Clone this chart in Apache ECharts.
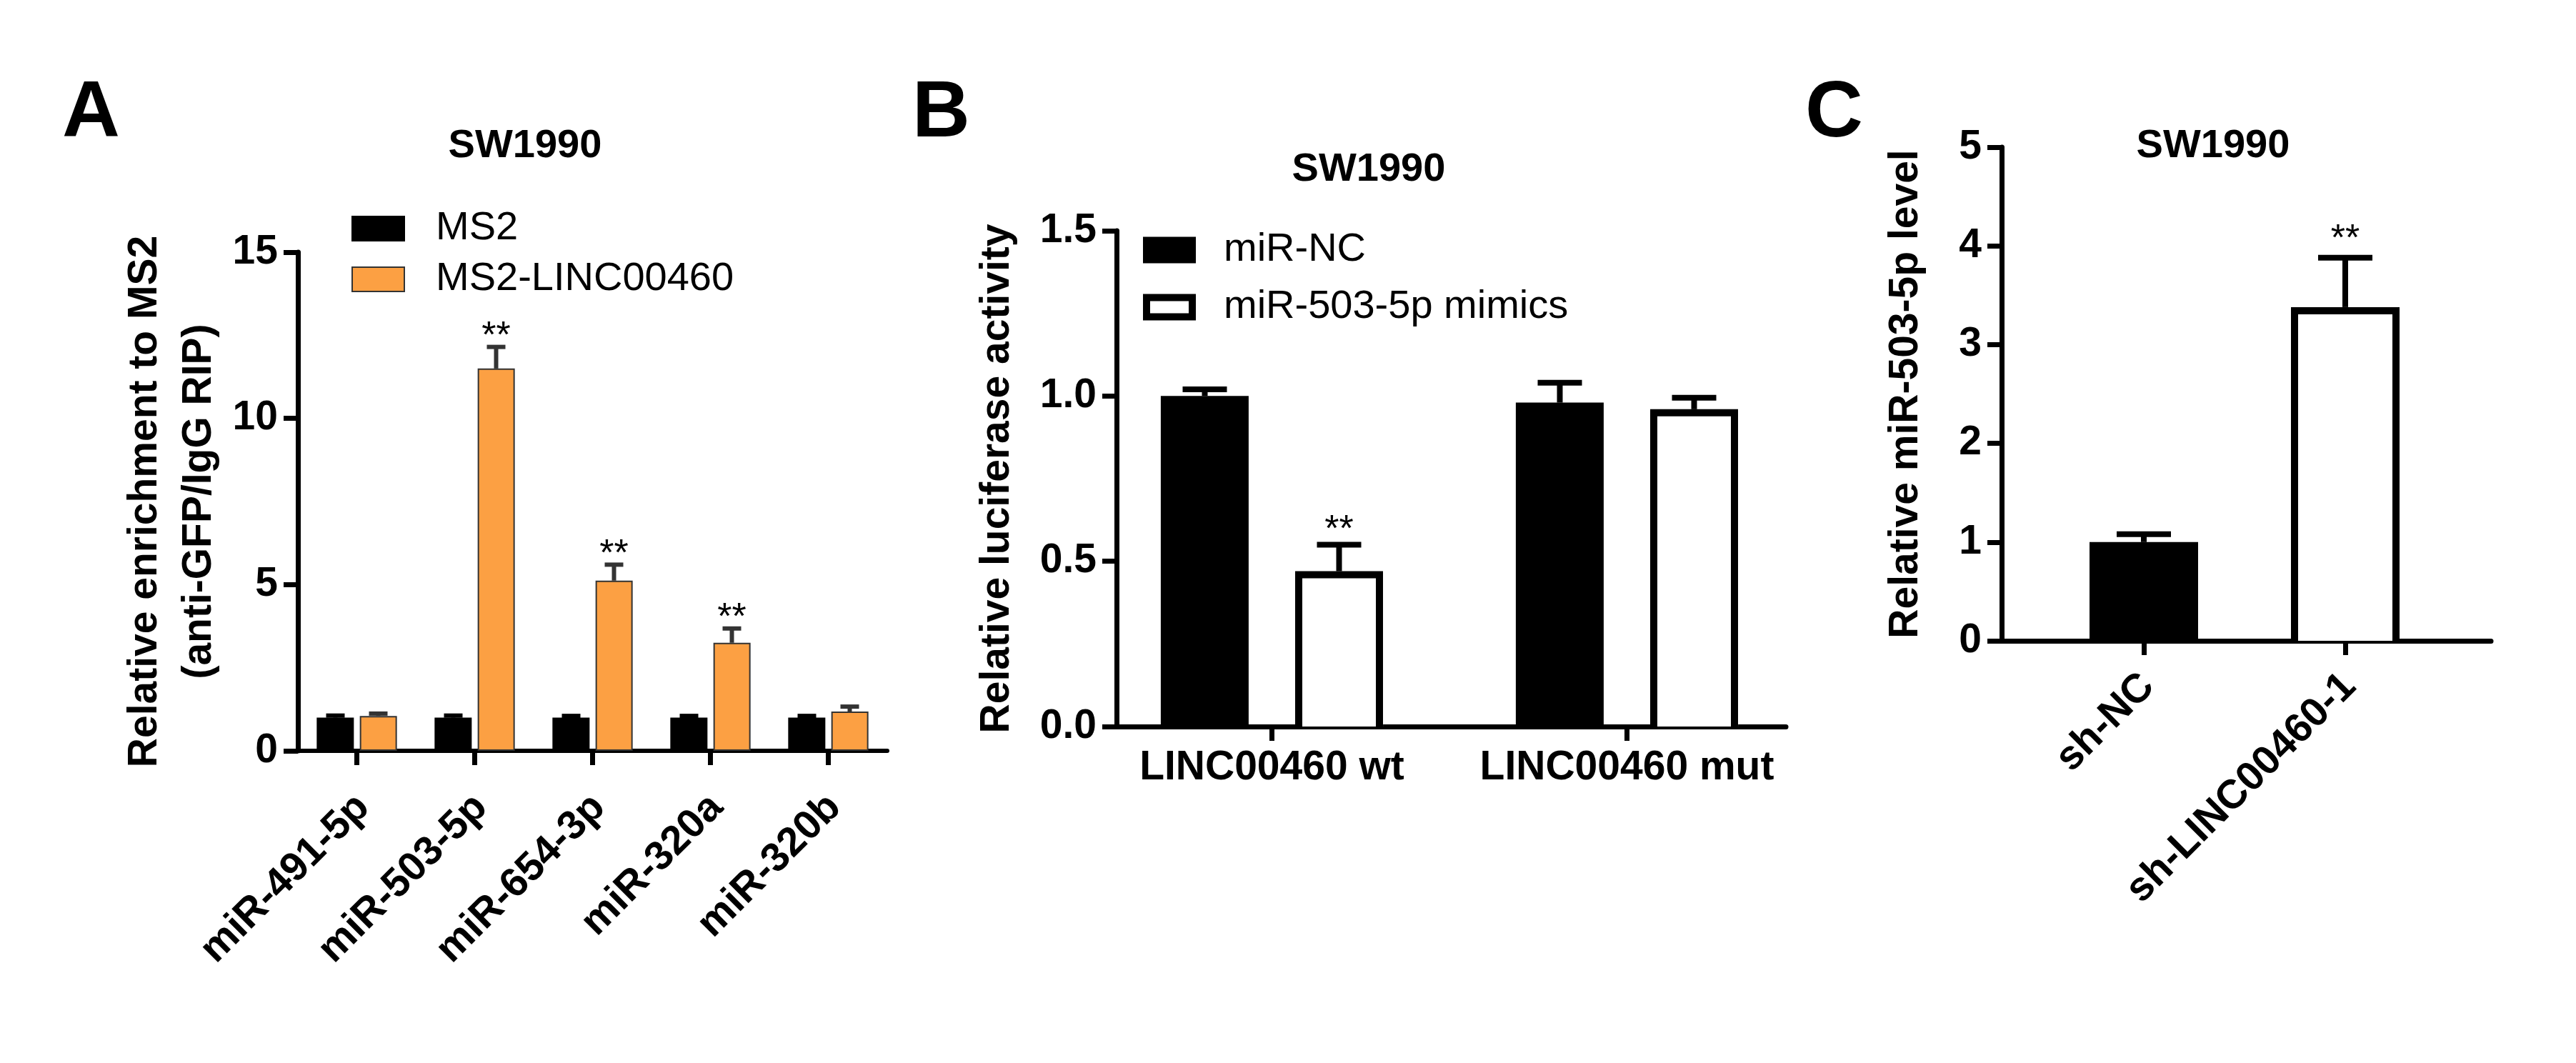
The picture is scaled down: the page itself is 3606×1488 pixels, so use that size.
<!DOCTYPE html>
<html>
<head>
<meta charset="utf-8">
<script src="https://cdn.jsdelivr.net/npm/echarts@6/dist/echarts.min.js"></script>
<style>
  html, body { margin: 0; padding: 0; background: #fff; }
  #main { width: 3606px; height: 1488px; }
</style>
</head>
<body>
<div id="main"></div>
<script>
// panel A - RIP enrichment
var catsA = ['miR-491-5p', 'miR-503-5p', 'miR-654-3p', 'miR-320a', 'miR-320b'];
var ms2 = [1.0, 1.0, 1.0, 1.0, 1.0];
var ms2Err = [0.06, 0.06, 0.05, 0.05, 0.05];
var ms2Linc = [1.05, 11.5, 5.12, 3.25, 1.18];
var ms2LincErr = [0.07, 0.65, 0.48, 0.43, 0.15];
var starsA = ['', '**', '**', '**', ''];
var ticksA = [0, 5, 10, 15];

// panel B - luciferase
var catsB = ['LINC00460 wt', 'LINC00460 mut'];
var miNC = [1.0, 0.98];
var miNCErr = [0.02, 0.06];
var mimics = [0.47, 0.96];
var mimicsErr = [0.08, 0.035];
var starsB = ['**', ''];
var ticksB = [0, 0.5, 1.0, 1.5];

// panel C - qPCR
var catsC = ['sh-NC', 'sh-LINC00460-1'];
var levelC = [1.0, 3.38];
var levelCErr = [0.08, 0.5];
var starsC = ['', '**'];
var ticksC = [0, 1, 2, 3, 4, 5];

var FONT = '"Liberation Sans", Arial, sans-serif';
var ORANGE = '#FCA043';

var myChart = echarts.init(document.getElementById('main'), null, { renderer: 'canvas' });

// 误差线 + 星号; outline = 空心柱的边框半宽 (不画底边, 底边由x轴代替)
function errorBars(name, xi, yi, vals, errs, stars, offset, capW, lineW, color, starGap, outline) {
  return {
    name: name,
    type: 'custom',
    xAxisIndex: xi,
    yAxisIndex: yi,
    z: 10,
    silent: true,
    data: vals.map(function (v, i) { return [i, v, v + errs[i]]; }),
    renderItem: function (params, api) {
      var base = api.coord([api.value(0), api.value(1)]);
      var top = api.coord([api.value(0), api.value(2)]);
      var zero = api.coord([api.value(0), 0]);
      var x = base[0] + offset;
      var st = { stroke: color, lineWidth: lineW };
      var kids = [];
      var hw = outline ? outline[params.dataIndex] : 0;
      if (hw) {
        kids.push({
          type: 'polyline',
          shape: { points: [[x - hw, zero[1]], [x - hw, base[1] + 5], [x + hw, base[1] + 5], [x + hw, zero[1]]] },
          style: { stroke: '#000', lineWidth: 10, lineJoin: 'miter', fill: null }
        });
      }
      kids.push({ type: 'line', shape: { x1: x, y1: base[1], x2: x, y2: top[1] }, style: st });
      kids.push({ type: 'line', shape: { x1: x - capW / 2, y1: top[1], x2: x + capW / 2, y2: top[1] }, style: st });
      var s = stars[params.dataIndex];
      if (s) {
        kids.push({
          type: 'text',
          style: {
            text: s, x: x, y: top[1] - starGap + 10,
            align: 'center', verticalAlign: 'middle',
            font: '52px ' + FONT, fill: '#000'
          }
        });
      }
      return { type: 'group', children: kids };
    }
  };
}

function valueAxis(gi, min, max, interval, fmt, name, gap, show) {
  return {
    type: 'value', gridIndex: gi, min: min, max: max, interval: interval,
    show: show,
    name: name, nameLocation: 'middle', nameRotate: 90, nameGap: gap,
    nameMoveOverlap: false,
    nameTextStyle: { fontFamily: FONT, fontWeight: 'bold', fontSize: 57, color: '#000', lineHeight: 76 },
    axisLine: { show: true, lineStyle: { color: '#000', width: 7 } },
    axisTick: { show: true, length: 20, lineStyle: { color: '#000', width: 7 } },
    axisLabel: {
      show: true, margin: 28, color: '#000', fontFamily: FONT, fontWeight: 'bold', fontSize: 57,
      formatter: fmt
    },
    splitLine: { show: false }
  };
}

// x轴线 only (与柱子所在网格分开, 以便类目位置与原图一致)
function lineOnlyX(gi) {
  return {
    type: 'value', gridIndex: gi, min: 0, max: 1,
    axisLine: { show: true, onZero: false, lineStyle: { color: '#000', width: 7 } },
    axisTick: { show: false }, axisLabel: { show: false }, splitLine: { show: false }
  };
}

function catAxis(gi, data, rotate, margin, showLine, padRight) {
  var lab = {
    interval: 0, rotate: rotate, margin: margin, color: '#000',
    fontFamily: FONT, fontWeight: 'bold', fontSize: 57, hideOverlap: false
  };
  if (rotate) {
    lab.align = 'right';
    lab.verticalAlign = 'top';
    lab.padding = [0, padRight, 0, 0];
  }
  return {
    type: 'category', gridIndex: gi, data: data,
    axisLine: { show: showLine, onZero: false, lineStyle: { color: '#000', width: 6 } },
    axisTick: { show: true, alignWithLabel: true, length: 20, lineStyle: { color: '#000', width: 7 } },
    axisLabel: lab,
    splitLine: { show: false }
  };
}

function letter(t, x, y) {
  return { text: t, left: x, top: y, padding: 0,
    textStyle: { fontFamily: FONT, fontWeight: 'bold', fontSize: 112, color: '#000' } };
}
function heading(x, y) {
  return { text: 'SW1990', left: x, top: y, textAlign: 'center', padding: 0,
    textStyle: { fontFamily: FONT, fontWeight: 'bold', fontSize: 56, color: '#000' } };
}

var option = {
  backgroundColor: '#fff',
  animation: false,
  title: [
    letter('A', 87, 104), letter('B', 1277, 104), letter('C', 2527, 104),
    heading(735, 177), heading(1916, 210), heading(3098, 177)
  ],
  legend: [
    {
      orient: 'vertical', left: 492, top: 290, padding: 0,
      itemWidth: 73, itemHeight: 34, itemGap: 11,
      icon: 'rect', selectedMode: false,
      textStyle: { fontFamily: FONT, fontSize: 56, color: '#000', lineHeight: 60, padding: [0, 0, 0, 39] },
      data: [
        { name: 'MS2', itemStyle: { color: '#000', borderColor: '#000', borderWidth: 2 } },
        { name: 'MS2-LINC00460', itemStyle: { color: ORANGE, borderColor: '#333', borderWidth: 2 } }
      ]
    },
    {
      orient: 'vertical', left: 1600, top: 320, padding: 0,
      itemWidth: 64, itemHeight: 27, itemGap: 20,
      icon: 'rect', selectedMode: false,
      textStyle: { fontFamily: FONT, fontSize: 56, color: '#000', lineHeight: 60, padding: [0, 0, 0, 39] },
      data: [
        { name: 'miR-NC', itemStyle: { color: '#000', borderColor: '#000', borderWidth: 10 } },
        { name: 'miR-503-5p mimics', itemStyle: { color: '#fff', borderColor: '#000', borderWidth: 10 } }
      ]
    }
  ],
  grid: [
    { left: 417, top: 353, width: 825, height: 698, outerBoundsMode: 'none' },
    { left: 1563, top: 323, width: 937, height: 694, outerBoundsMode: 'none' },
    { left: 1532, top: 323, width: 994, height: 694, outerBoundsMode: 'none' },
    { left: 2802, top: 206, width: 685, height: 691, outerBoundsMode: 'none' },
    { left: 2860, top: 206, width: 564, height: 691, outerBoundsMode: 'none' }
  ],
  xAxis: [
    catAxis(0, catsA, 45, 39, true, 16),
    lineOnlyX(1),
    catAxis(2, catsB, 0, 30, false, 0),
    lineOnlyX(3),
    catAxis(4, catsC, 45, 21, false, 20)
  ],
  yAxis: [
    valueAxis(0, ticksA[0], ticksA[ticksA.length - 1], 5, null,
      'Relative enrichment to MS2\n(anti-GFP/IgG RIP)', 100, true),
    valueAxis(1, ticksB[0], ticksB[ticksB.length - 1], 0.5, function (v) { return v.toFixed(1); },
      'Relative luciferase activity', 129, true),
    valueAxis(2, ticksB[0], ticksB[ticksB.length - 1], 0.5, null, '', 0, false),
    valueAxis(3, ticksC[0], ticksC[ticksC.length - 1], 1, null,
      'Relative miR-503-5p level', 96, true),
    valueAxis(4, ticksC[0], ticksC[ticksC.length - 1], 1, null, '', 0, false)
  ],
  series: [
    {
      name: 'MS2', type: 'bar', xAxisIndex: 0, yAxisIndex: 0, data: ms2,
      barWidth: 52, barGap: '16%',
      itemStyle: { color: '#000', borderColor: '#000', borderWidth: 2 }
    },
    {
      name: 'MS2-LINC00460', type: 'bar', xAxisIndex: 0, yAxisIndex: 0, data: ms2Linc,
      barWidth: 52, barGap: '16%',
      itemStyle: { color: ORANGE, borderColor: '#333', borderWidth: 2 }
    },
    errorBars('errMS2', 0, 0, ms2, ms2Err, ['', '', '', '', ''], -30, 26, 6, '#000', 24),
    errorBars('errLinc', 0, 0, ms2Linc, ms2LincErr, starsA, 30, 26, 6, '#333', 24),

    {
      name: 'miR-NC', type: 'bar', xAxisIndex: 2, yAxisIndex: 2, data: miNC,
      barWidth: 123, barGap: '53%',
      itemStyle: { color: '#000' }
    },
    {
      name: 'miR-503-5p mimics', type: 'bar', xAxisIndex: 2, yAxisIndex: 2, data: mimics,
      barWidth: 123, barGap: '53%',
      itemStyle: { color: '#fff' }
    },
    errorBars('errNC', 2, 2, miNC, miNCErr, ['', ''], -94, 62, 8, '#000', 30),
    errorBars('errMimics', 2, 2, mimics, mimicsErr, starsB, 94, 62, 8, '#000', 30, [56.5, 56.5]),

    {
      name: 'levelC', type: 'bar', xAxisIndex: 4, yAxisIndex: 4,
      barWidth: 152,
      data: levelC.map(function (v, i) {
        return { value: v, itemStyle: { color: i === 0 ? '#000' : '#fff' } };
      })
    },
    errorBars('errC', 4, 4, levelC, levelCErr, starsC, 0, 76, 8, '#000', 35, [0, 71])
  ]
};

myChart.setOption(option);
</script>
</body>
</html>
